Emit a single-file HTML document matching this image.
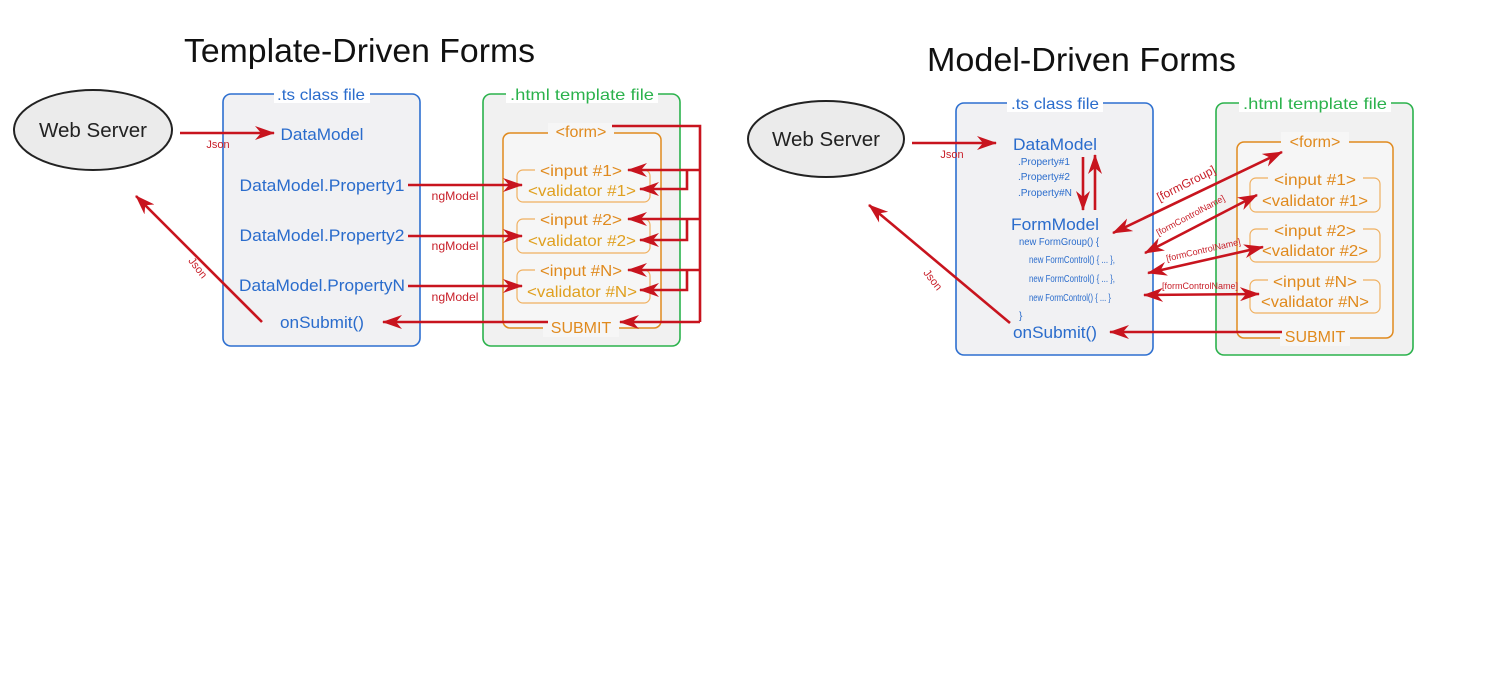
<!DOCTYPE html>
<html><head><meta charset="utf-8"><style>
html,body{margin:0;padding:0;background:#fff;}
svg{display:block;}
text{font-family:"Liberation Sans",sans-serif;}
.b{fill:#2a6ccc;}
.o{fill:#e08a1e;}
.y{fill:#e0a020;}
.r{fill:#c8202a;}
.ln{stroke:#c8141e;stroke-width:2.6;fill:none;}
</style></head><body>
<svg width="1512" height="677" viewBox="0 0 1512 677" xmlns="http://www.w3.org/2000/svg">
<defs>
<marker id="a" viewBox="0 0 20 14" refX="19" refY="7" markerWidth="20" markerHeight="14" markerUnits="userSpaceOnUse" orient="auto-start-reverse">
<path d="M0,0 L20,7 L0,14 L6,7 Z" fill="#c8141e"/></marker>
</defs>
<rect width="1512" height="677" fill="#fff"/>

<!-- LEFT -->
<text x="184" y="62" font-size="33" textLength="351" lengthAdjust="spacingAndGlyphs" fill="#111">Template-Driven Forms</text>
<ellipse cx="93" cy="130" rx="79" ry="40" fill="#ebebeb" stroke="#222" stroke-width="2"/>
<text x="93" y="137" font-size="20" text-anchor="middle" fill="#222" textLength="108" lengthAdjust="spacingAndGlyphs">Web Server</text>

<rect x="223" y="94" width="197" height="252" rx="8" fill="#f1f1f3" stroke="#2d6fd0" stroke-width="1.6"/>
<rect x="274" y="85" width="96" height="18" fill="#fff"/>
<text x="321" y="100" font-size="16" text-anchor="middle" class="b" textLength="88" lengthAdjust="spacingAndGlyphs">.ts class file</text>
<rect x="483" y="94" width="197" height="252" rx="8" fill="#f1f1f1" stroke="#2bb24c" stroke-width="1.6"/>
<rect x="506" y="85" width="152" height="18" fill="#fff"/>
<text x="582" y="100" font-size="16" text-anchor="middle" fill="#2bb24c" textLength="144" lengthAdjust="spacingAndGlyphs">.html template file</text>
<rect x="503" y="133" width="158" height="195" rx="7" fill="#f6f6f6" stroke="#e08a1e" stroke-width="1.5"/>
<rect x="548" y="123" width="66" height="18" fill="#f6f6f6"/>
<text x="581" y="137" font-size="16" text-anchor="middle" class="o">&lt;form&gt;</text>
<rect x="543" y="317" width="76" height="20" fill="#f6f6f6"/>
<text x="581" y="333" font-size="16" text-anchor="middle" class="o">SUBMIT</text>

<g>
<rect x="517" y="170" width="133" height="32" rx="6" fill="none" stroke="#f0b060" stroke-width="1.2"/>
<rect x="535" y="161" width="95" height="16" fill="#f6f6f6"/>
<text x="581" y="176" font-size="16" text-anchor="middle" class="o" textLength="82" lengthAdjust="spacingAndGlyphs">&lt;input #1&gt;</text>
<text x="582" y="196" font-size="16" text-anchor="middle" class="y" textLength="108" lengthAdjust="spacingAndGlyphs">&lt;validator #1&gt;</text>
<rect x="517" y="219" width="133" height="34" rx="6" fill="none" stroke="#f0b060" stroke-width="1.2"/>
<rect x="535" y="210" width="95" height="16" fill="#f6f6f6"/>
<text x="581" y="225" font-size="16" text-anchor="middle" class="o" textLength="82" lengthAdjust="spacingAndGlyphs">&lt;input #2&gt;</text>
<text x="582" y="246" font-size="16" text-anchor="middle" class="y" textLength="108" lengthAdjust="spacingAndGlyphs">&lt;validator #2&gt;</text>
<rect x="517" y="270" width="133" height="33" rx="6" fill="none" stroke="#f0b060" stroke-width="1.2"/>
<rect x="535" y="261" width="95" height="16" fill="#f6f6f6"/>
<text x="581" y="276" font-size="16" text-anchor="middle" class="o" textLength="82" lengthAdjust="spacingAndGlyphs">&lt;input #N&gt;</text>
<text x="582" y="297" font-size="16" text-anchor="middle" class="y" textLength="110" lengthAdjust="spacingAndGlyphs">&lt;validator #N&gt;</text>
</g>

<text x="322" y="140" font-size="16.5" text-anchor="middle" class="b" textLength="83" lengthAdjust="spacingAndGlyphs">DataModel</text>
<text x="322" y="191" font-size="16.5" text-anchor="middle" class="b" textLength="165" lengthAdjust="spacingAndGlyphs">DataModel.Property1</text>
<text x="322" y="241" font-size="16.5" text-anchor="middle" class="b" textLength="165" lengthAdjust="spacingAndGlyphs">DataModel.Property2</text>
<text x="322" y="291" font-size="16.5" text-anchor="middle" class="b" textLength="166" lengthAdjust="spacingAndGlyphs">DataModel.PropertyN</text>
<text x="322" y="328" font-size="16.5" text-anchor="middle" class="b" textLength="84" lengthAdjust="spacingAndGlyphs">onSubmit()</text>

<line x1="180" y1="133" x2="274" y2="133" class="ln" marker-end="url(#a)"/>
<line x1="408" y1="185" x2="522" y2="185" class="ln" marker-end="url(#a)"/>
<line x1="408" y1="236" x2="522" y2="236" class="ln" marker-end="url(#a)"/>
<line x1="408" y1="286" x2="522" y2="286" class="ln" marker-end="url(#a)"/>
<line x1="548" y1="322" x2="383" y2="322" class="ln" marker-end="url(#a)"/>
<line x1="262" y1="322" x2="136" y2="196" class="ln" marker-end="url(#a)"/>
<text x="218" y="148" font-size="11" text-anchor="middle" class="r">Json</text>
<text x="455" y="200" font-size="12" text-anchor="middle" class="r" textLength="47" lengthAdjust="spacingAndGlyphs">ngModel</text>
<text x="455" y="250" font-size="12" text-anchor="middle" class="r" textLength="47" lengthAdjust="spacingAndGlyphs">ngModel</text>
<text x="455" y="301" font-size="12" text-anchor="middle" class="r" textLength="47" lengthAdjust="spacingAndGlyphs">ngModel</text>
<text x="195" y="270" font-size="11" text-anchor="middle" class="r" transform="rotate(52 195 270)">Json</text>

<polyline points="612,126 700,126 700,322" class="ln"/>
<line x1="700" y1="170" x2="628" y2="170" class="ln" marker-end="url(#a)"/>
<line x1="700" y1="219" x2="628" y2="219" class="ln" marker-end="url(#a)"/>
<line x1="700" y1="270" x2="628" y2="270" class="ln" marker-end="url(#a)"/>
<line x1="700" y1="322" x2="620" y2="322" class="ln" marker-end="url(#a)"/>
<polyline points="687,170 687,189 640,189" class="ln" marker-end="url(#a)"/>
<polyline points="687,219 687,240 640,240" class="ln" marker-end="url(#a)"/>
<polyline points="687,270 687,290 640,290" class="ln" marker-end="url(#a)"/>

<!-- RIGHT -->
<text x="927" y="71" font-size="33" textLength="309" lengthAdjust="spacingAndGlyphs" fill="#111">Model-Driven Forms</text>
<ellipse cx="826" cy="139" rx="78" ry="38" fill="#ebebeb" stroke="#222" stroke-width="2"/>
<text x="826" y="146" font-size="20" text-anchor="middle" fill="#222" textLength="108" lengthAdjust="spacingAndGlyphs">Web Server</text>

<rect x="956" y="103" width="197" height="252" rx="8" fill="#f1f1f3" stroke="#2d6fd0" stroke-width="1.6"/>
<rect x="1007" y="94" width="96" height="18" fill="#fff"/>
<text x="1055" y="109" font-size="16" text-anchor="middle" class="b" textLength="88" lengthAdjust="spacingAndGlyphs">.ts class file</text>
<rect x="1216" y="103" width="197" height="252" rx="8" fill="#f1f1f1" stroke="#2bb24c" stroke-width="1.6"/>
<rect x="1239" y="94" width="152" height="18" fill="#fff"/>
<text x="1315" y="109" font-size="16" text-anchor="middle" fill="#2bb24c" textLength="144" lengthAdjust="spacingAndGlyphs">.html template file</text>
<rect x="1237" y="142" width="156" height="196" rx="7" fill="#f6f6f6" stroke="#e08a1e" stroke-width="1.5"/>
<rect x="1281" y="132" width="68" height="18" fill="#f6f6f6"/>
<text x="1315" y="147" font-size="16" text-anchor="middle" class="o">&lt;form&gt;</text>
<rect x="1280" y="326" width="70" height="20" fill="#f6f6f6"/>
<text x="1315" y="342" font-size="16" text-anchor="middle" class="o">SUBMIT</text>

<rect x="1250" y="178" width="130" height="34" rx="6" fill="none" stroke="#f0b060" stroke-width="1.2"/>
<rect x="1268" y="169" width="95" height="16" fill="#f6f6f6"/>
<text x="1315" y="185" font-size="16" text-anchor="middle" class="o" textLength="82" lengthAdjust="spacingAndGlyphs">&lt;input #1&gt;</text>
<text x="1315" y="206" font-size="16" text-anchor="middle" class="o" textLength="106" lengthAdjust="spacingAndGlyphs">&lt;validator #1&gt;</text>
<rect x="1250" y="229" width="130" height="33" rx="6" fill="none" stroke="#f0b060" stroke-width="1.2"/>
<rect x="1268" y="220" width="95" height="16" fill="#f6f6f6"/>
<text x="1315" y="236" font-size="16" text-anchor="middle" class="o" textLength="82" lengthAdjust="spacingAndGlyphs">&lt;input #2&gt;</text>
<text x="1315" y="256" font-size="16" text-anchor="middle" class="o" textLength="106" lengthAdjust="spacingAndGlyphs">&lt;validator #2&gt;</text>
<rect x="1250" y="280" width="130" height="33" rx="6" fill="none" stroke="#f0b060" stroke-width="1.2"/>
<rect x="1268" y="271" width="95" height="16" fill="#f6f6f6"/>
<text x="1315" y="287" font-size="16" text-anchor="middle" class="o" textLength="84" lengthAdjust="spacingAndGlyphs">&lt;input #N&gt;</text>
<text x="1315" y="307" font-size="16" text-anchor="middle" class="o" textLength="108" lengthAdjust="spacingAndGlyphs">&lt;validator #N&gt;</text>

<text x="1055" y="150" font-size="17" text-anchor="middle" class="b" textLength="84" lengthAdjust="spacingAndGlyphs">DataModel</text>
<text x="1018" y="165" font-size="10" class="b" textLength="52" lengthAdjust="spacingAndGlyphs">.Property#1</text>
<text x="1018" y="180" font-size="10" class="b" textLength="52" lengthAdjust="spacingAndGlyphs">.Property#2</text>
<text x="1018" y="196" font-size="10" class="b" textLength="54" lengthAdjust="spacingAndGlyphs">.Property#N</text>
<text x="1055" y="230" font-size="17" text-anchor="middle" class="b" textLength="88" lengthAdjust="spacingAndGlyphs">FormModel</text>
<text x="1019" y="245" font-size="10" class="b" textLength="80" lengthAdjust="spacingAndGlyphs">new FormGroup() {</text>
<text x="1029" y="263" font-size="10" class="b" textLength="86" lengthAdjust="spacingAndGlyphs">new FormControl() { ... },</text>
<text x="1029" y="282" font-size="10" class="b" textLength="86" lengthAdjust="spacingAndGlyphs">new FormControl() { ... },</text>
<text x="1029" y="301" font-size="10" class="b" textLength="82" lengthAdjust="spacingAndGlyphs">new FormControl() { ... }</text>
<text x="1019" y="319" font-size="10" class="b">}</text>
<text x="1055" y="338" font-size="17" text-anchor="middle" class="b" textLength="84" lengthAdjust="spacingAndGlyphs">onSubmit()</text>

<line x1="912" y1="143" x2="996" y2="143" class="ln" marker-end="url(#a)"/>
<text x="952" y="158" font-size="11" text-anchor="middle" class="r">Json</text>
<line x1="1083" y1="157" x2="1083" y2="210" class="ln" marker-end="url(#a)"/>
<line x1="1095" y1="210" x2="1095" y2="155" class="ln" marker-end="url(#a)"/>
<line x1="1113" y1="233" x2="1282" y2="152" class="ln" marker-start="url(#a)" marker-end="url(#a)"/>
<text x="1188" y="187" font-size="12" text-anchor="middle" class="r" transform="rotate(-27 1188 187)">[formGroup]</text>
<line x1="1145" y1="253" x2="1257" y2="195" class="ln" marker-start="url(#a)" marker-end="url(#a)"/>
<text x="1192" y="218" font-size="9" text-anchor="middle" class="r" transform="rotate(-28 1192 218)">[formControlName]</text>
<line x1="1148" y1="273" x2="1263" y2="247" class="ln" marker-start="url(#a)" marker-end="url(#a)"/>
<text x="1204" y="253" font-size="9" text-anchor="middle" class="r" transform="rotate(-13 1204 253)">[formControlName]</text>
<line x1="1144" y1="295" x2="1259" y2="294" class="ln" marker-start="url(#a)" marker-end="url(#a)"/>
<text x="1200" y="289" font-size="9" text-anchor="middle" class="r">[formControlName]</text>
<line x1="1282" y1="332" x2="1110" y2="332" class="ln" marker-end="url(#a)"/>
<line x1="1010" y1="323" x2="869" y2="205" class="ln" marker-end="url(#a)"/>
<text x="930" y="282" font-size="11" text-anchor="middle" class="r" transform="rotate(52 930 282)">Json</text>
</svg>
</body></html>
